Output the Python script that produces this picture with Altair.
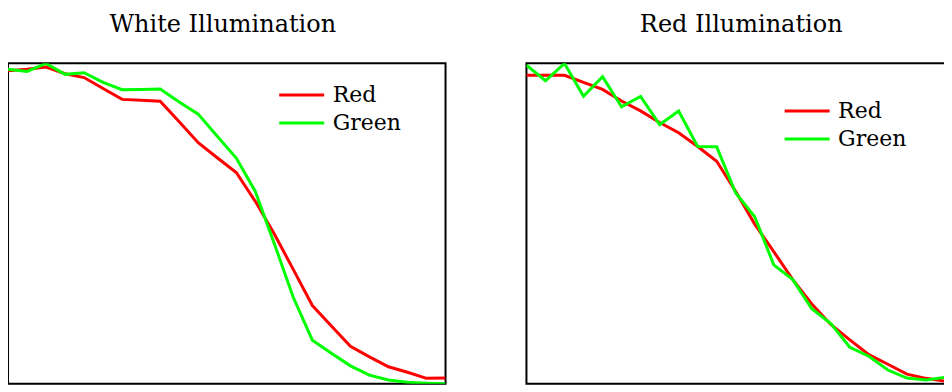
import altair as alt
import pandas as pd

# x positions (sample index)
steps = list(range(24))

# White illumination panel
white_red = [0.976, 0.981, 0.988, 0.967, 0.955, 0.921, 0.887, 0.884, 0.881, 0.817,
             0.752, 0.705, 0.659, 0.569, 0.467, 0.356, 0.244, 0.180, 0.117, 0.084,
             0.053, 0.036, 0.017, 0.018]
white_green = [0.981, 0.974, 0.999, 0.965, 0.970, 0.940, 0.917, 0.918, 0.919, 0.879,
               0.841, 0.772, 0.704, 0.600, 0.437, 0.269, 0.136, 0.095, 0.056, 0.027,
               0.012, 0.005, 0.002, 0.000]

# Red illumination panel
red_red = [0.962, 0.962, 0.962, 0.940, 0.918, 0.882, 0.851, 0.815, 0.783, 0.740,
           0.694, 0.600, 0.498, 0.412, 0.325, 0.249, 0.185, 0.137, 0.091, 0.061,
           0.030, 0.017, 0.008, 0.000]
red_green = [0.994, 0.945, 0.999, 0.897, 0.958, 0.864, 0.896, 0.808, 0.851, 0.740,
             0.739, 0.595, 0.521, 0.371, 0.325, 0.234, 0.188, 0.114, 0.086, 0.043,
             0.018, 0.012, 0.020, 0.000]

series_names = ["Red", "Green"]
series_colors = ["#ff0000", "#00ff00"]
panel_titles = ["White Illumination", "Red Illumination"]

FONT = "DejaVu Serif"


def make_df(red_vals, green_vals):
    rows = []
    for name, vals in zip(series_names, [red_vals, green_vals]):
        for x, v in zip(steps, vals):
            rows.append({"x": x, "y": v, "series": name})
    return pd.DataFrame(rows)


def panel(df, title, legend_x, legend_y):
    color = alt.Color(
        "series:N",
        scale=alt.Scale(domain=series_names, range=series_colors),
        legend=alt.Legend(
            title=None,
            orient="none",
            legendX=legend_x,
            legendY=legend_y,
            symbolType="stroke",
            symbolSize=2025,
            symbolStrokeWidth=3,
            labelFont=FONT,
            labelFontSize=22,
            labelColor="black",
            labelOffset=7,
            clipHeight=28,
            rowPadding=0,
            padding=0,
        ),
    )
    base = alt.Chart(df).encode(
        x=alt.X("x:Q", scale=alt.Scale(domain=[0, 23], nice=False, zero=False), axis=None),
        y=alt.Y("y:Q", scale=alt.Scale(domain=[0, 1], nice=False), axis=None),
        color=color,
    )
    layers = [
        base.transform_filter(alt.datum.series == s).mark_line(strokeWidth=3, clip=True)
        for s in series_names
    ]
    return alt.layer(*layers).properties(
        width=438,
        height=321,
        title=alt.TitleParams(
            text=title,
            font=FONT,
            fontSize=24,
            fontWeight="normal",
            color="black",
            anchor="middle",
            dx=-4,
            offset=26,
        ),
    )


left = panel(make_df(white_red, white_green), panel_titles[0], 270, 18)
right = panel(make_df(red_red, red_green), panel_titles[1], 257, 34)

chart = (
    alt.hconcat(left, right, spacing=79)
    .resolve_scale(color="independent")
    .configure_view(stroke="black", strokeWidth=2)
    .properties(
        padding={"left": -1, "top": 4, "right": -21, "bottom": 0},
        background="white",
    )
)

chart.save("out.html", embed_options={"renderer": "svg", "actions": False})
